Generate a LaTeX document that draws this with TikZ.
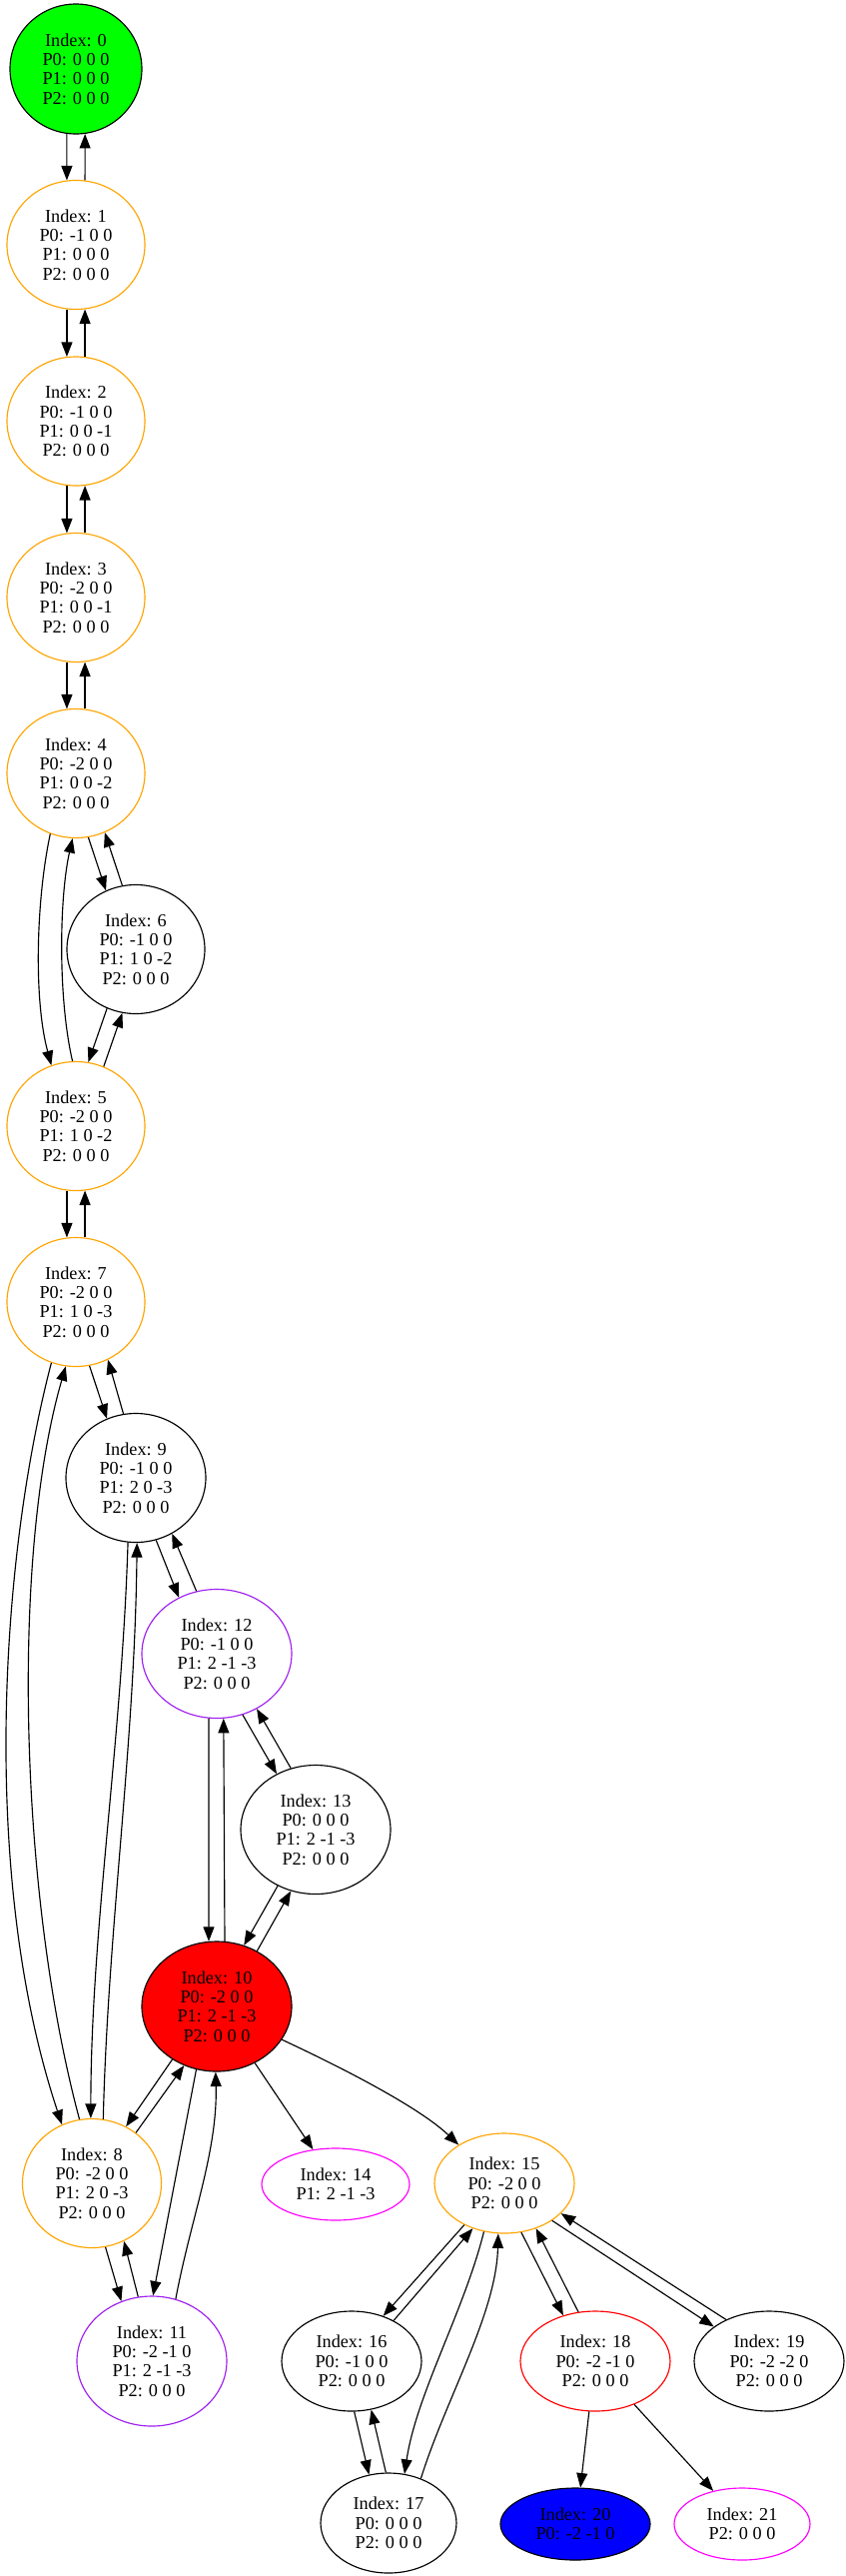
\documentclass[tikz,border=0pt]{standalone}
\usepackage{fontspec}
\setmainfont{Liberation Serif}
\usetikzlibrary{shapes.geometric,arrows.meta}
\definecolor{gvorange}{HTML}{FFA500}
\definecolor{gvpurple}{HTML}{A020F0}
\definecolor{gvmagenta}{HTML}{FF00FF}
\definecolor{gvgreen}{HTML}{00FF00}
\definecolor{gvred}{HTML}{FF0000}
\definecolor{gvblue}{HTML}{0000FF}
\newcommand{\gvfont}{\fontsize{18.2}{19.3}\selectfont}
\tikzset{
  st/.style={ellipse, draw, line width=1.15pt, inner sep=0pt, align=center, font=\gvfont},
  big/.style={minimum width=138pt, minimum height=129pt},
  mid/.style={minimum width=140pt, minimum height=100pt},
  e/.style={-{Triangle[length=14.5pt,width=11pt]}, line width=1.15pt},
}
\begin{document}
\begin{tikzpicture}[x=1pt,y=-1pt]
\useasboundingbox[fill=white] (0,0) rectangle (846,2578);
% nodes
\node[st, fill=gvgreen, minimum width=132pt, minimum height=130pt] (n0) at (76,69) {Index: 0\\P0: 0 0 0\\P1: 0 0 0\\P2: 0 0 0};
\node[st, big, draw=gvorange] (n1) at (76,245) {Index: 1\\P0: -1 0 0\\P1: 0 0 0\\P2: 0 0 0};
\node[st, big, draw=gvorange] (n2) at (76,421.5) {Index: 2\\P0: -1 0 0\\P1: 0 0 -1\\P2: 0 0 0};
\node[st, big, draw=gvorange] (n3) at (76,598) {Index: 3\\P0: -2 0 0\\P1: 0 0 -1\\P2: 0 0 0};
\node[st, big, draw=gvorange] (n4) at (76,774) {Index: 4\\P0: -2 0 0\\P1: 0 0 -2\\P2: 0 0 0};
\node[st, big] (n6) at (136,950) {Index: 6\\P0: -1 0 0\\P1: 1 0 -2\\P2: 0 0 0};
\node[st, big, draw=gvorange] (n5) at (76,1127) {Index: 5\\P0: -2 0 0\\P1: 1 0 -2\\P2: 0 0 0};
\node[st, big, draw=gvorange] (n7) at (76,1303) {Index: 7\\P0: -2 0 0\\P1: 1 0 -3\\P2: 0 0 0};
\node[st, big, minimum width=140pt] (n9) at (136,1479) {Index: 9\\P0: -1 0 0\\P1: 2 0 -3\\P2: 0 0 0};
\node[st, big, minimum width=150pt, draw=gvpurple] (n12) at (217,1655) {Index: 12\\P0: -1 0 0\\P1: 2 -1 -3\\P2: 0 0 0};
\node[st, big, minimum width=150pt] (n13) at (316,1831) {Index: 13\\P0: 0 0 0\\P1: 2 -1 -3\\P2: 0 0 0};
\node[st, fill=gvred, minimum width=150pt, minimum height=130pt] (n10) at (217,2008) {Index: 10\\P0: -2 0 0\\P1: 2 -1 -3\\P2: 0 0 0};
\node[st, big, minimum width=139pt, draw=gvorange] (n8) at (92,2185) {Index: 8\\P0: -2 0 0\\P1: 2 0 -3\\P2: 0 0 0};
\node[st, draw=gvmagenta, minimum width=148pt, minimum height=72pt] (n14) at (336,2186) {Index: 14\\P1: 2 -1 -3};
\node[st, mid, draw=gvorange] (n15) at (505,2185) {Index: 15\\P0: -2 0 0\\P2: 0 0 0};
\node[st, draw=gvpurple, minimum width=150pt, minimum height=130pt] (n11) at (152,2363) {Index: 11\\P0: -2 -1 0\\P1: 2 -1 -3\\P2: 0 0 0};
\node[st, mid] (n16) at (352,2363) {Index: 16\\P0: -1 0 0\\P2: 0 0 0};
\node[st, mid, minimum width=150pt, draw=gvred] (n18) at (596,2363) {Index: 18\\P0: -2 -1 0\\P2: 0 0 0};
\node[st, mid, minimum width=150pt] (n19) at (770,2363) {Index: 19\\P0: -2 -2 0\\P2: 0 0 0};
\node[st, mid, minimum width=136pt] (n17) at (389,2525) {Index: 17\\P0: 0 0 0\\P2: 0 0 0};
\node[st, fill=gvblue, minimum width=150pt, minimum height=72pt] (n20) at (576,2526) {Index: 20\\P0: -2 -1 0};
\node[st, draw=gvmagenta, minimum width=136pt, minimum height=72pt] (n21) at (743,2526) {Index: 21\\P2: 0 0 0};
% edges
\draw[e] (n0.-98) -- (n1.98);
\draw[e] (n1.82) -- (n0.-82);
\draw[e] (n1.-98) -- (n2.98);
\draw[e] (n2.82) -- (n1.-82);
\draw[e] (n2.-98) -- (n3.98);
\draw[e] (n3.82) -- (n2.-82);
\draw[e] (n3.-98) -- (n4.98);
\draw[e] (n4.82) -- (n3.-82);
\draw[e] (n4.-113) .. controls +(-14,65) and +(-18,-67) .. (n5.112);
\draw[e] (n5.93) .. controls +(-14.5,-62) and +(-13.5,61) .. (n4.-93.5);
\draw[e] (n4.-79) -- (n6.117);
\draw[e] (n6.102) -- (n4.-64);
\draw[e] (n6.-116) -- (n5.79);
\draw[e] (n5.65) -- (n6.-102);
\draw[e] (n5.-98) -- (n7.98);
\draw[e] (n7.82) -- (n5.-82);
\draw[e] (n7.-112) .. controls (0,1560) and (-20,1880) .. (n8.117);
\draw[e] (n8.101) .. controls (20,1900) and (10,1560) .. (n7.-99);
\draw[e] (n7.-78) -- (n9.116);
\draw[e] (n9.101) -- (n7.-61.5);
\draw[e] (n9.-97) .. controls (122,1743) and (91,1931) .. (n8.91);
\draw[e] (n8.80) .. controls (108,1930) and (135,1745) .. (n9.-89);
\draw[e] (n9.-72) -- (n12.124);
\draw[e] (n12.108) -- (n9.-57);
\draw[e] (n12.-97) -- (n10.97);
\draw[e] (n10.83) -- (n12.-84);
\draw[e] (n12.-67) -- (n13.125);
\draw[e] (n13.112) -- (n12.-54);
\draw[e] (n13.-124) -- (n10.66);
\draw[e] (n10.54) -- (n13.-112);
\draw[e] (n10.-130) -- (n8.59);
\draw[e] (n8.49) -- (n10.-119);
\draw[e] (n10.-108) -- (n11.89);
\draw[e] (n11.69) .. controls +(15,-80) and +(2,80) .. (n10.-91);
\draw[e] (n8.-78) -- (n11.117);
\draw[e] (n11.102) -- (n8.-61);
\draw[e] (n10.-56) -- (n14.123);
\draw[e] (n10.-27) .. controls (342,2069) and (420,2109) .. (n15.140);
\draw[e] (n15.-134) -- (n16.55);
\draw[e] (n16.44) -- (n15.-125);
\draw[e] (n15.-113) .. controls +(-20,80) and +(12,-80) .. (n17.72);
\draw[e] (n17.54) .. controls +(25,-80) and +(-2,80) .. (n15.-97);
\draw[e] (n16.-87) -- (n17.112);
\draw[e] (n17.93) -- (n16.-68);
\draw[e] (n15.-71) -- (n18.125);
\draw[e] (n18.109) -- (n15.-55);
\draw[e] (n15.-38) -- (n19.148);
\draw[e] (n19.136) -- (n15.-28);
\draw[e] (n18.-97) -- (n20.82);
\draw[e] (n18.-48) -- (n21.131);
\end{tikzpicture}
\end{document}
